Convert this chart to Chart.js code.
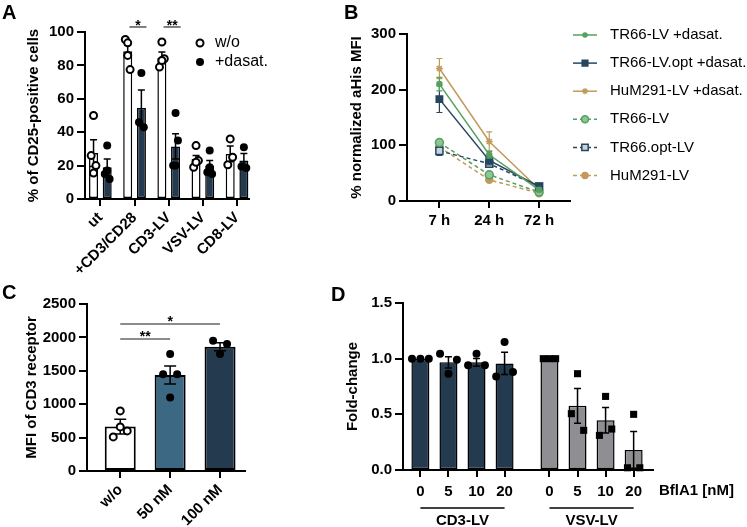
<!DOCTYPE html>
<html>
<head>
<meta charset="utf-8">
<script src="https://cdn.jsdelivr.net/npm/chart.js@4.4.1/dist/chart.umd.min.js"></script>
<style>
  body { margin: 0; background: #fff; }
  #page { position: relative; width: 747px; height: 527px; overflow: hidden; background: #fff; }
  canvas, .tag { position: absolute; }
  .tag { font: bold 20px "Liberation Sans", Arial, sans-serif; line-height: 20px; color: #000; }
</style>
</head>
<body>
<div id="page">
  <canvas id="chartA" width="275" height="280" style="left:0;top:0"></canvas>
  <canvas id="chartB" width="407" height="232" style="left:340px;top:0"></canvas>
  <canvas id="chartC" width="260" height="247" style="left:0;top:280px"></canvas>
  <canvas id="chartD" width="447" height="247" style="left:300px;top:280px"></canvas>
  <div class="tag" style="left:2px;top:2px">A</div>
  <div class="tag" style="left:344px;top:2px">B</div>
  <div class="tag" style="left:2px;top:282px">C</div>
  <div class="tag" style="left:331px;top:284px">D</div>
</div>
<script>
// ---- panel A: CD25-positive cells ----
const catsA = ["ut", "+CD3/CD28", "CD3-LV", "VSV-LV", "CD8-LV"];
const meanA_wo = [27.5, 88.5, 84.5, 24, 27];
const semA_wo = [8, 3.5, 3.5, 2, 4.7];
const meanA_das = [19, 54.5, 31.5, 20, 23];
const semA_das = [5, 10.7, 7.6, 3, 4.3];
const ptsA_wo = [[26, 50, 20, 15.5], [95.5, 93.5, 77.5, 86], [79, 94, 84, 83], [19, 32, 23, 22], [20.5, 36, 25]];
const ptsA_das = [[15, 32, 12, 17], [46, 75.5, 43], [20, 51.5, 35, 20], [16, 29, 15, 19], [19.5, 31, 18.5]];
const sigA = [[1, "*"], [2, "**"]];

// ---- panel B: normalized aHis MFI ----
const timesB = ["7 h", "24 h", "72 h"];
const tr66Das = [210, 83, 20];
const tr66DasErr = [12, 6, 3];
const tr66optDas = [183, 73, 26];
const tr66optDasErr = [24, 8, 3];
const hum291Das = [238, 107, 21];
const hum291DasErr = [18, 17, 3];
const tr66 = [105, 47, 16];
const tr66Err = [5, 5, 2];
const tr66opt = [90, 67, 26];
const tr66optErr = [8, 5, 2];
const hum291 = [97, 38, 14];
const hum291Err = [4, 3, 2];

// ---- panel C: CD3 receptor MFI ----
const catsC = ["w/o", "50 nM", "100 nM"];
const meanC = [665, 1437, 1860];
const semC = [110, 135, 60];
const ptsC = [[510, 900, 600, 660], [1450, 1750, 1450, 1100], [1950, 1750, 1900]];
const sigC = [[0, 1, "**", 1975], [0, 2, "*", 2200]];

// ---- panel D: fold-change with BflA1 ----
const dosesD = ["0", "5", "10", "20"];
const groupsD = ["CD3-LV", "VSV-LV"];
const meanCD3 = [1.0, 0.967, 0.967, 0.957];
const semCD3 = [0, 0.05, 0.035, 0.1];
const ptsCD3 = [[1, 1, 1], [1.045, 0.865, 0.99], [0.94, 1.045, 0.94], [0.84, 1.15, 0.88]];
const meanVSV = [1.0, 0.576, 0.447, 0.18];
const semVSV = [0, 0.155, 0.114, 0.165];
const ptsVSV = [[1, 1, 1], [0.506, 0.865, 0.356], [0.311, 0.661, 0.368], [0.02, 0.5, 0.02]];

const FONT = '"Liberation Sans", Arial, sans-serif';
const DARK = '#243a4e';
const GREEN = '#55a05f';
const NAVY = '#264660';
const BROWN = '#c19a5c';
const GROUP_GAP = 0.6;

Chart.defaults.font.family = FONT;
Chart.defaults.color = '#000';
Chart.defaults.animation = false;
Chart.defaults.events = [];
Chart.defaults.plugins.legend.display = false;
Chart.defaults.plugins.tooltip.enabled = false;

// draws mean +/- sem whiskers from a dataset's "errors" array
const errorBars = {
  id: 'errorBars',
  draw(chart, idx) {
    const ds = chart.data.datasets[idx];
    if (!ds.errors) return;
    const meta = chart.getDatasetMeta(idx);
    const y = chart.scales.y;
    const ctx = chart.ctx;
    const cap = ds.capWidth || 7;
    ctx.save();
    ctx.strokeStyle = ds.errColor || '#000';
    ctx.lineWidth = ds.errWidth || 1.5;
    meta.data.forEach((el, j) => {
      const e = ds.errors[j];
      if (!e) return;
      const v = meta.controller.getParsed(j).y;
      const top = y.getPixelForValue(v + e);
      const bot = y.getPixelForValue(v - e);
      ctx.beginPath();
      ctx.moveTo(el.x, top); ctx.lineTo(el.x, bot);
      ctx.moveTo(el.x - cap / 2, top); ctx.lineTo(el.x + cap / 2, top);
      ctx.moveTo(el.x - cap / 2, bot); ctx.lineTo(el.x + cap / 2, bot);
      ctx.stroke();
    });
    ctx.restore();
  },
  beforeDatasetDraw(chart, args) {
    if ((chart.data.datasets[args.index].type || chart.config.type) === 'line') this.draw(chart, args.index);
  },
  afterDatasetDraw(chart, args) {
    if ((chart.data.datasets[args.index].type || chart.config.type) === 'bar') this.draw(chart, args.index);
  }
};
Chart.register(errorBars);

function drawText(ctx, str, x, y, font, align, base) {
  ctx.save();
  ctx.font = font;
  ctx.fillStyle = '#000';
  ctx.textAlign = align || 'center';
  ctx.textBaseline = base || 'middle';
  ctx.fillText(str, x, y);
  ctx.restore();
}

// scatter of single replicates, spread a little around the bar
function dots(groups, xs, step, style) {
  const data = [];
  groups.forEach((vals, i) => vals.forEach((v, k) => {
    const off = vals.length === 3 ? [-1, 0, 1][k] : [-1, 0, 1, 0][k % 4];
    data.push({ x: xs[i] + off * step, y: v });
  }));
  return Object.assign({ type: 'scatter', data, order: 1, clip: false }, style);
}

function yAxis(min, max, step, title, width, titlePad, fmt) {
  return {
    min, max,
    ticks: { stepSize: step, color: '#000', font: { size: 15, weight: 'bold' }, padding: 3, callback: fmt },
    grid: { drawOnChartArea: false, drawTicks: true, tickLength: 8, color: '#000', lineWidth: 2 },
    border: { color: '#000', width: 2 },
    title: { display: true, text: title, color: '#000', font: { size: 15, weight: 'bold' }, padding: { top: titlePad, bottom: 0 } },
    afterFit: s => { s.width = width; }
  };
}

function xAxis(min, max, positions, labels, height, rot, pad) {
  return {
    type: 'linear', min, max, offset: false,
    afterBuildTicks: s => { s.ticks = positions.map(p => ({ value: p })); },
    ticks: {
      autoSkip: false, minRotation: rot, maxRotation: rot, padding: pad,
      color: '#000', font: { size: 15, weight: 'bold' },
      callback: (v, i) => labels[i]
    },
    grid: { offset: false, drawOnChartArea: false, drawTicks: true, tickLength: 7, color: '#000', lineWidth: 2 },
    border: { color: '#000', width: 2 },
    afterFit: s => { s.height = height; }
  };
}

// ---------------- A ----------------
const posA = catsA.map((c, i) => i);
const posAwo = posA.map(p => p - 0.2);
const posAdas = posA.map(p => p + 0.2);
new Chart(document.getElementById('chartA'), {
  type: 'bar',
  data: {
    datasets: [
      { label: 'w/o', data: posAwo.map((x, i) => ({ x, y: meanA_wo[i] })), errors: semA_wo, capWidth: 7,
        backgroundColor: '#fff', borderColor: '#000', borderWidth: 1.5, borderSkipped: false,
        grouped: false, maxBarThickness: 9, order: 2 },
      { label: '+dasat.', data: posAdas.map((x, i) => ({ x, y: meanA_das[i] })), errors: semA_das, capWidth: 7,
        backgroundColor: DARK, borderColor: '#000', borderWidth: 1.5, borderSkipped: false,
        grouped: false, maxBarThickness: 9, order: 2 },
      dots(ptsA_wo, posAwo, 0.07, { pointStyle: 'circle', pointRadius: 3.5, pointBorderWidth: 2, backgroundColor: '#fff', borderColor: '#000' }),
      dots(ptsA_das, posAdas, 0.07, { pointStyle: 'circle', pointRadius: 4, pointBorderWidth: 0, backgroundColor: '#000', borderColor: '#000' })
    ]
  },
  options: {
    responsive: false,
    layout: { padding: { left: 0, top: 32, right: 26, bottom: 0 } },
    scales: {
      x: xAxis(-0.45, 4.35, posA, catsA, 81, 45, 3),
      y: yAxis(0, 100, 20, '% of CD25-positive cells', 85, 25, v => String(v))
    }
  },
  plugins: [{
    id: 'annotA',
    afterDraw(chart) {
      const { ctx, scales: { x, y } } = chart;
      ctx.save();
      ctx.strokeStyle = '#000';
      ctx.lineWidth = 1;
      sigA.forEach(([i, star]) => {
        const x1 = x.getPixelForValue(i - 0.15), x2 = x.getPixelForValue(i + 0.35);
        const yy = y.getPixelForValue(103);
        ctx.beginPath(); ctx.moveTo(x1, yy); ctx.lineTo(x2, yy); ctx.stroke();
        drawText(ctx, star, (x1 + x2) / 2, yy + 3, 'bold 14px ' + FONT, 'center', 'alphabetic');
      });
      // legend
      const lx = 200;
      [['w/o', 43, true], ['+dasat.', 62, false]].forEach(([t, ly, hollow]) => {
        ctx.beginPath();
        ctx.arc(lx, ly, hollow ? 3.5 : 4, 0, Math.PI * 2);
        if (hollow) { ctx.fillStyle = '#fff'; ctx.fill(); ctx.lineWidth = 2; ctx.stroke(); }
        else { ctx.fillStyle = '#000'; ctx.fill(); }
        drawText(ctx, t, 215, ly, '16px ' + FONT, 'left', 'middle');
      });
      ctx.restore();
    }
  }]
});

// ---------------- B ----------------
const posB = timesB.map((t, i) => i);
function lineSet(label, vals, errs, color, style, radius, fill, dashed) {
  return {
    label, data: posB.map((x, i) => ({ x, y: vals[i] })), errors: errs, errColor: color, errWidth: 1.2, capWidth: 6,
    borderColor: color, borderWidth: 1.5, borderDash: dashed ? [4, 3] : [],
    pointStyle: style, pointRadius: radius, pointBackgroundColor: fill, pointBorderColor: color, pointBorderWidth: 1.5,
    clip: false
  };
}
new Chart(document.getElementById('chartB'), {
  type: 'line',
  data: {
    datasets: [
      lineSet('TR66-LV +dasat.', tr66Das, tr66DasErr, GREEN, 'circle', 2.5, GREEN, false),
      lineSet('TR66-LV.opt +dasat.', tr66optDas, tr66optDasErr, NAVY, 'rect', 4.5, NAVY, false),
      lineSet('HuM291-LV +dasat.', hum291Das, hum291DasErr, BROWN, 'star', 3.5, BROWN, false),
      lineSet('TR66-LV', tr66, tr66Err, GREEN, 'circle', 4, '#8cc596', true),
      lineSet('TR66.opt-LV', tr66opt, tr66optErr, NAVY, 'rect', 5, '#c9d4df', true),
      lineSet('HuM291-LV', hum291, hum291Err, BROWN, 'circle', 3.5, BROWN, true)
    ]
  },
  options: {
    responsive: false,
    layout: { padding: { left: 0, top: 34, right: 177, bottom: 0 } },
    scales: {
      x: xAxis(-0.65, 2.62, posB, timesB, 31, 0, 4),
      y: yAxis(0, 300, 100, '% normalized aHis MFI', 67, 8, v => String(v))
    }
  },
  plugins: [{
    id: 'legendB',
    afterDraw(chart) {
      const ctx = chart.ctx;
      chart.data.datasets.forEach((ds, i) => {
        const ly = 35 + i * 28.1;
        ctx.save();
        ctx.strokeStyle = ds.borderColor;
        ctx.lineWidth = 1.5;
        ctx.setLineDash(ds.borderDash);
        ctx.beginPath(); ctx.moveTo(233, ly); ctx.lineTo(257, ly); ctx.stroke();
        ctx.setLineDash([]);
        ctx.fillStyle = ds.pointBackgroundColor;
        ctx.strokeStyle = ds.pointBorderColor;
        ctx.lineWidth = 1.5;
        Chart.helpers.drawPoint(ctx, { pointStyle: ds.pointStyle, radius: ds.pointRadius - 0.5, rotation: 0, borderWidth: 1.5 }, 245, ly);
        ctx.restore();
        drawText(ctx, ds.label, 270, ly, '15px ' + FONT, 'left', 'middle');
      });
    }
  }]
});

// ---------------- C ----------------
const posC = catsC.map((c, i) => i);
new Chart(document.getElementById('chartC'), {
  type: 'bar',
  data: {
    datasets: [
      { data: posC.map((x, i) => ({ x, y: meanC[i] })), errors: semC, capWidth: 12,
        backgroundColor: ['#fff', '#3d6884', DARK], borderColor: '#000', borderWidth: 2, borderSkipped: false,
        grouped: false, maxBarThickness: 31, order: 2 },
      dots(ptsC.slice(0, 1), posC, 0.14, { pointStyle: 'circle', pointRadius: 3.5, pointBorderWidth: 2, backgroundColor: '#fff', borderColor: '#000' }),
      dots(ptsC.slice(1), posC.slice(1), 0.14, { pointStyle: 'circle', pointRadius: 4, pointBorderWidth: 0, backgroundColor: '#000', borderColor: '#000' })
    ]
  },
  options: {
    responsive: false,
    layout: { padding: { left: 0, top: 24, right: 15, bottom: 0 } },
    scales: {
      x: xAxis(-0.666, 2.5, posC, catsC, 56, 45, 3),
      y: yAxis(0, 2500, 500, 'MFI of CD3 receptor', 87, 23, v => String(v))
    }
  },
  plugins: [{
    id: 'sigC',
    afterDraw(chart) {
      const { ctx, scales: { x, y } } = chart;
      ctx.save();
      ctx.strokeStyle = '#8c8c8c';
      ctx.lineWidth = 2;
      sigC.forEach(([a, b, star, lvl]) => {
        const x1 = x.getPixelForValue(a), x2 = x.getPixelForValue(b), yy = y.getPixelForValue(lvl);
        ctx.beginPath(); ctx.moveTo(x1, yy); ctx.lineTo(x2, yy); ctx.stroke();
        drawText(ctx, star, (x1 + x2) / 2, yy + 2, 'bold 14px ' + FONT, 'center', 'alphabetic');
      });
      ctx.restore();
    }
  }]
});

// ---------------- D ----------------
const posCD3 = dosesD.map((d, i) => i);
const posVSV = dosesD.map((d, i) => i + dosesD.length + GROUP_GAP);
const posD = posCD3.concat(posVSV);
const labelsD = dosesD.concat(dosesD);
new Chart(document.getElementById('chartD'), {
  type: 'bar',
  data: {
    datasets: [
      { label: groupsD[0], data: posCD3.map((x, i) => ({ x, y: meanCD3[i] })), errors: semCD3, capWidth: 7,
        backgroundColor: DARK, borderColor: '#000', borderWidth: 1.5, borderSkipped: false,
        grouped: false, maxBarThickness: 18, order: 2 },
      { label: groupsD[1], data: posVSV.map((x, i) => ({ x, y: meanVSV[i] })), errors: semVSV, capWidth: 7,
        backgroundColor: '#8f8f93', borderColor: '#000', borderWidth: 1.5, borderSkipped: false,
        grouped: false, maxBarThickness: 18, order: 2 },
      dots(ptsCD3, posCD3, 0.3, { pointStyle: 'circle', pointRadius: 4, pointBorderWidth: 0, backgroundColor: '#000' }),
      dots(ptsVSV, posVSV, 0.22, { pointStyle: 'rect', pointRadius: 5, pointBorderWidth: 0, backgroundColor: '#000' })
    ]
  },
  options: {
    responsive: false,
    layout: { padding: { left: 0, top: 23, right: 94, bottom: 0 } },
    scales: {
      x: xAxis(-0.62, 8.29, posD, labelsD, 57, 0, 6),
      y: yAxis(0, 1.5, 0.5, 'Fold-change', 103, 44, v => v.toFixed(1))
    }
  },
  plugins: [{
    id: 'groupsD',
    afterDraw(chart) {
      const { ctx, scales: { x }, chartArea } = chart;
      const lineY = chartArea.bottom + 38;
      ctx.save();
      ctx.strokeStyle = '#000';
      ctx.lineWidth = 1.5;
      [posCD3, posVSV].forEach((ps, g) => {
        const x1 = x.getPixelForValue(ps[0]), x2 = x.getPixelForValue(ps[ps.length - 1]);
        ctx.beginPath(); ctx.moveTo(x1, lineY); ctx.lineTo(x2, lineY); ctx.stroke();
        drawText(ctx, groupsD[g], (x1 + x2) / 2, lineY + 13, 'bold 15px ' + FONT, 'center', 'middle');
      });
      ctx.restore();
      drawText(ctx, 'BflA1 [nM]', chartArea.right + 6, chartArea.bottom + 21, 'bold 15px ' + FONT, 'left', 'middle');
    }
  }]
});
</script>
</body>
</html>
